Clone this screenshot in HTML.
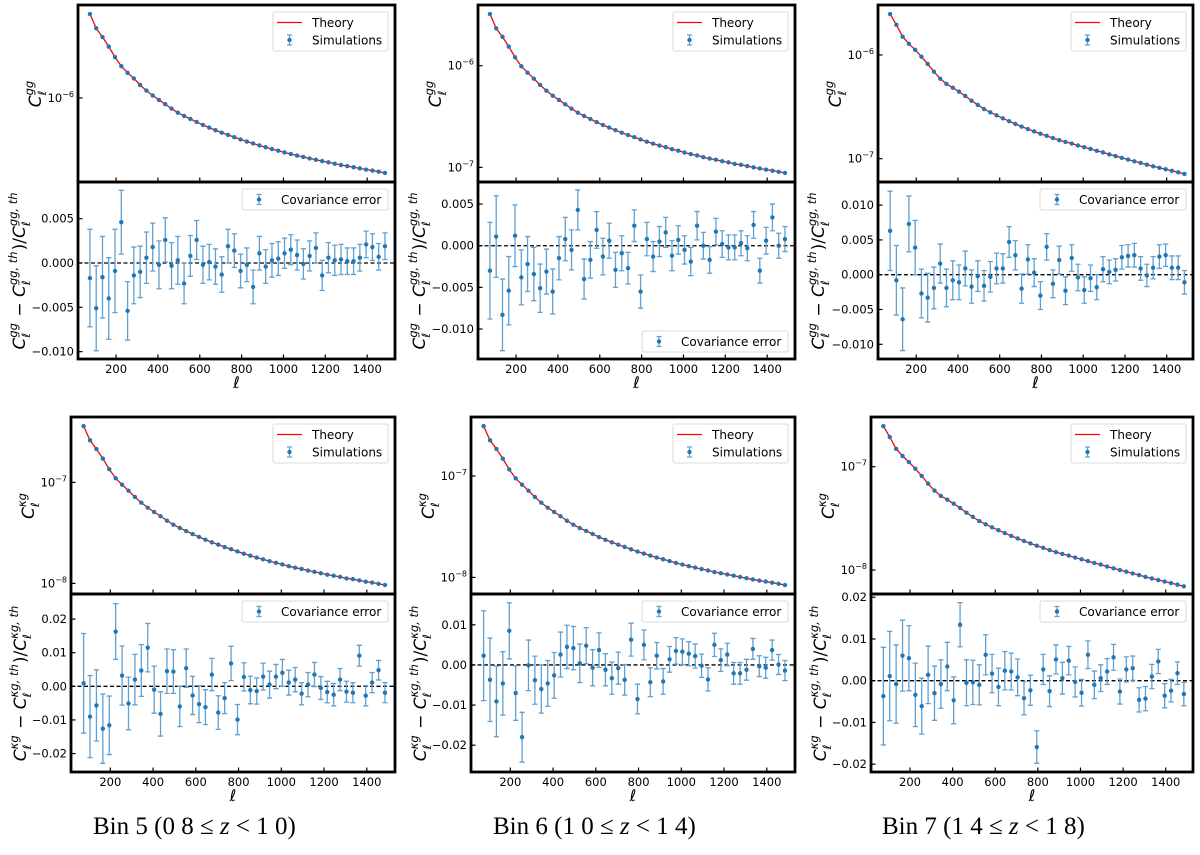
<!DOCTYPE html>
<html><head><meta charset="utf-8">
<style>
html,body{margin:0;padding:0;background:#fff;}
svg{display:block;}
text{font-family:"DejaVu Sans","Liberation Sans",sans-serif;}
.cap{font-family:"Liberation Serif",serif;font-size:25px;}
</style></head>
<body>
<svg id="fig" width="1200" height="855" viewBox="0 0 1200 855"></svg>
<script>
// ---------- data ----------
const ells = [75,105,135,165,195,225,255,285,315,345,375,405,435,465,495,525,555,585,615,645,675,705,735,765,795,825,855,885,915,945,975,1005,1035,1065,1095,1125,1155,1185,1215,1245,1275,1305,1335,1365,1395,1425,1455,1485];

const gg5Cl = [3.63,2.92,2.55,2.20,1.87,1.63,1.47,1.35,1.22,1.12,1.04,0.970,0.908,0.849,0.798,0.759,0.724,0.692,0.661,0.634,0.609,0.587,0.567,0.547,0.529,0.512,0.497,0.482,0.469,0.456,0.445,0.433,0.423,0.413,0.404,0.395,0.387,0.379,0.372,0.364,0.357,0.351,0.345,0.339,0.333,0.328,0.322,0.316];
const gg6Cl = [3.22,2.33,1.92,1.54,1.21,0.987,0.853,0.745,0.646,0.568,0.507,0.460,0.417,0.378,0.345,0.320,0.299,0.279,0.261,0.246,0.232,0.219,0.208,0.198,0.188,0.179,0.171,0.164,0.158,0.151,0.146,0.140,0.135,0.131,0.126,0.122,0.119,0.115,0.112,0.108,0.106,0.103,0.100,0.0975,0.0951,0.0928,0.0905,0.0881];
const gg7Cl = [2.48,1.95,1.50,1.28,1.12,0.963,0.819,0.690,0.591,0.525,0.484,0.443,0.403,0.362,0.330,0.301,0.280,0.262,0.245,0.230,0.216,0.204,0.193,0.183,0.174,0.166,0.158,0.151,0.145,0.140,0.134,0.129,0.124,0.119,0.115,0.110,0.106,0.102,0.098,0.0944,0.0910,0.0875,0.0845,0.0817,0.0791,0.0764,0.0739,0.0712];
const kg5Cl = [3.61,2.61,2.14,1.72,1.35,1.10,0.949,0.828,0.717,0.630,0.562,0.509,0.462,0.418,0.381,0.354,0.330,0.308,0.288,0.271,0.255,0.242,0.229,0.218,0.207,0.197,0.188,0.180,0.173,0.166,0.160,0.154,0.148,0.143,0.139,0.134,0.130,0.126,0.122,0.119,0.116,0.112,0.110,0.107,0.104,0.102,0.0991,0.0964];
const kg6Cl = [3.11,2.25,1.85,1.48,1.16,0.949,0.821,0.717,0.621,0.546,0.487,0.442,0.401,0.362,0.331,0.307,0.287,0.268,0.250,0.235,0.222,0.210,0.200,0.189,0.180,0.172,0.164,0.157,0.151,0.145,0.139,0.134,0.129,0.125,0.121,0.117,0.113,0.110,0.107,0.104,0.101,0.0982,0.0955,0.0931,0.0909,0.0887,0.0865,0.0841];
const kg7Cl = [2.47,1.94,1.49,1.27,1.11,0.957,0.814,0.686,0.587,0.521,0.480,0.439,0.399,0.359,0.327,0.298,0.277,0.259,0.243,0.228,0.214,0.202,0.191,0.181,0.172,0.164,0.156,0.149,0.143,0.138,0.132,0.127,0.122,0.117,0.113,0.108,0.104,0.100,0.0963,0.0927,0.0893,0.0858,0.0828,0.0800,0.0774,0.0747,0.0722,0.0695];

const gg5Res = [-0.0017,-0.0051,-0.0016,-0.0040,-0.0009,0.0046,-0.0054,-0.0014,-0.0010,0.0006,0.0018,-0.0002,0.0026,-0.0003,0.0003,-0.0023,0.0008,0.0026,-0.0002,0.0001,-0.0004,-0.0013,0.0019,0.0014,-0.0009,-0.0002,-0.0027,0.0011,-0.0004,0.0003,0.0005,0.0011,0.0015,0.0009,-0.0001,0.0008,0.0017,-0.0014,0.0006,0.0003,0.0004,0.0002,0.0002,0.0006,0.0021,0.0018,0.0007,0.0019];
const gg5Err = [0.0055,0.0048,0.0046,0.0046,0.0047,0.0036,0.0033,0.0032,0.0029,0.0029,0.0027,0.0027,0.0025,0.0026,0.0027,0.0023,0.0023,0.0022,0.0021,0.0020,0.0020,0.0020,0.0019,0.0019,0.0019,0.0019,0.0019,0.0019,0.0019,0.0019,0.0019,0.0017,0.0017,0.0017,0.0017,0.0017,0.0017,0.0017,0.0017,0.0017,0.0017,0.0015,0.0015,0.0015,0.0015,0.0015,0.0015,0.0015];
const gg6Res = [-0.0030,0.0011,-0.0083,-0.0054,0.0012,-0.0038,-0.0022,-0.0034,-0.0051,-0.0031,-0.0055,-0.0015,0.0008,-0.0005,0.0043,-0.0040,-0.0017,0.0019,-0.0013,0.0006,-0.0029,-0.0009,-0.0027,0.0024,-0.0055,0.0008,-0.0013,0.0005,0.0016,-0.0012,0.0007,-0.0005,-0.0019,0.0024,0.0000,-0.0017,0.0017,0.0002,-0.0002,-0.0002,0.0003,-0.0003,0.0025,-0.0030,0.0006,0.0034,0.0000,0.0008];
const gg6Err = [0.0058,0.0049,0.0043,0.0041,0.0037,0.0033,0.0033,0.0032,0.0029,0.0027,0.0027,0.0026,0.0026,0.0024,0.0024,0.0024,0.0022,0.0022,0.0022,0.0021,0.0021,0.0021,0.0019,0.0019,0.0020,0.0020,0.0018,0.0018,0.0018,0.0018,0.0017,0.0017,0.0017,0.0017,0.0016,0.0016,0.0016,0.0016,0.0015,0.0015,0.0015,0.0015,0.0016,0.0015,0.0016,0.0016,0.0015,0.0015];
const gg7Res = [0.0063,-0.0008,-0.0064,0.0073,0.0039,-0.0027,-0.0033,-0.0019,0.0016,-0.0019,-0.0008,-0.0011,0.0009,-0.0017,-0.0002,-0.0016,-0.0003,0.0009,0.0009,0.0047,0.0028,-0.0020,0.0022,0.0003,-0.0030,0.0040,-0.0013,0.0021,-0.0023,0.0024,-0.0004,-0.0022,-0.0005,-0.0018,0.0008,0.0004,0.0007,0.0025,0.0027,0.0028,0.0009,-0.0001,0.0010,0.0026,0.0028,0.0010,0.0010,-0.0011];
const gg7Err = [0.0057,0.0050,0.0045,0.0040,0.0039,0.0035,0.0035,0.0030,0.0028,0.0027,0.0028,0.0025,0.0025,0.0024,0.0022,0.0022,0.0022,0.0022,0.0021,0.0022,0.0021,0.0021,0.0021,0.0020,0.0020,0.0019,0.0020,0.0020,0.0020,0.0019,0.0019,0.0019,0.0019,0.0018,0.0018,0.0017,0.0016,0.0017,0.0016,0.0017,0.0017,0.0016,0.0016,0.0017,0.0016,0.0017,0.0017,0.0017];
const kg5Res = [0.0009,-0.0090,-0.0057,-0.0126,-0.0116,0.0163,0.0032,-0.0051,0.0020,0.0047,0.0115,-0.0010,-0.0082,0.0045,0.0044,-0.0060,0.0054,-0.0027,-0.0053,-0.0062,0.0035,-0.0078,-0.0035,0.0068,-0.0099,0.0028,-0.0011,-0.0014,0.0029,0.0005,0.0029,0.0040,0.0011,0.0020,-0.0022,0.0005,0.0035,-0.0005,-0.0017,-0.0025,0.0020,-0.0016,-0.0019,0.0091,-0.0028,0.0011,0.0048,-0.0019];
const kg5Err = [0.0148,0.0122,0.0106,0.0103,0.0087,0.0083,0.0088,0.0078,0.0075,0.0077,0.0072,0.0070,0.0066,0.0066,0.0065,0.0060,0.0057,0.0057,0.0055,0.0052,0.0048,0.0050,0.0046,0.0051,0.0045,0.0042,0.0041,0.0039,0.0040,0.0040,0.0036,0.0040,0.0037,0.0036,0.0033,0.0036,0.0036,0.0034,0.0032,0.0033,0.0033,0.0031,0.0030,0.0031,0.0030,0.0030,0.0029,0.0030];
const kg6Res = [0.0023,-0.0037,-0.0091,-0.0046,0.0085,-0.0070,-0.0180,-0.0001,-0.0038,-0.0060,-0.0046,-0.0026,0.0026,0.0045,0.0042,0.0004,0.0048,-0.0007,0.0037,-0.0012,-0.0033,-0.0008,-0.0037,0.0063,-0.0085,0.0050,-0.0043,0.0023,-0.0041,0.0014,0.0035,0.0033,0.0028,0.0022,-0.0002,-0.0036,0.0050,0.0012,0.0026,-0.0021,-0.0021,-0.0012,0.0040,-0.0003,-0.0007,0.0037,0.0001,-0.0014];
const kg6Err = [0.0112,0.0104,0.0088,0.0079,0.0070,0.0068,0.0062,0.0063,0.0060,0.0060,0.0057,0.0057,0.0056,0.0054,0.0054,0.0048,0.0045,0.0045,0.0043,0.0040,0.0040,0.0040,0.0038,0.0041,0.0037,0.0037,0.0036,0.0033,0.0032,0.0032,0.0033,0.0032,0.0030,0.0030,0.0029,0.0029,0.0029,0.0028,0.0028,0.0027,0.0027,0.0026,0.0026,0.0026,0.0026,0.0025,0.0025,0.0025];
const kg7Res = [-0.0037,0.0011,-0.0008,0.0060,0.0054,-0.0034,-0.0061,0.0014,-0.0030,-0.0008,0.0034,-0.0047,0.0134,-0.0005,-0.0004,-0.0010,0.0062,0.0017,-0.0015,0.0024,0.0022,0.0008,-0.0042,-0.0023,-0.0159,0.0027,-0.0025,0.0051,0.0006,0.0048,-0.0003,-0.0029,0.0062,-0.0010,0.0006,0.0022,0.0056,-0.0026,0.0027,0.0030,-0.0046,-0.0043,0.0010,0.0046,-0.0036,-0.0024,0.0018,-0.0032];
const kg7Err = [0.0117,0.0107,0.0094,0.0085,0.0078,0.0076,0.0067,0.0069,0.0065,0.0058,0.0058,0.0056,0.0053,0.0055,0.0053,0.0048,0.0048,0.0046,0.0045,0.0046,0.0044,0.0044,0.0040,0.0036,0.0039,0.0036,0.0037,0.0035,0.0038,0.0034,0.0036,0.0032,0.0033,0.0033,0.0032,0.0031,0.0031,0.0030,0.0030,0.0029,0.0029,0.0029,0.0029,0.0029,0.0029,0.0027,0.0027,0.0028];

const xTicks = [200,400,600,800,1000,1200,1400];
const ggLogTicks5 = [-6];
const ggLogTicks = [-6,-7];
const kgLogTicks = [-7,-8];
const ggResTicks = [-0.010,-0.005,0,0.005];
const ggResTicks7 = [-0.010,-0.005,0,0.005,0.010];
const kgResTicks = [-0.02,-0.01,0,0.01,0.02];
const kgResTicks6 = [-0.02,-0.01,0,0.01];
const captions = ["Bin 5 (0 8 \u2264 z < 1 0)","Bin 6 (1 0 \u2264 z < 1 4)","Bin 7 (1 4 \u2264 z < 1 8)"];

const panels = [
 {id:'gg-bin5',kind:'gg',L:78,R:395,T:5,M:182,B:359,xlim:[18,1533],cl:gg5Cl,unit:1e-6,logLim:[2.75e-7,4.17e-6],logT:ggLogTicks5,res:gg5Res,err:gg5Err,resLim:[-0.01083,0.00914],resT:ggResTicks,dec:3,legLow:false,lab1:35,lab2:19},
 {id:'gg-bin6',kind:'gg',L:478,R:795,T:5,M:182,B:359,xlim:[18,1533],cl:gg6Cl,unit:1e-6,logLim:[7.18e-8,3.95e-6],logT:ggLogTicks,res:gg6Res,err:gg6Err,resLim:[-0.0136,0.00765],resT:ggResTicks,dec:3,legLow:true,lab1:435,lab2:419},
 {id:'gg-bin7',kind:'gg',L:878,R:1193,T:5,M:182,B:359,xlim:[17,1526],cl:gg7Cl,unit:1e-6,logLim:[5.96e-8,3.03e-6],logT:ggLogTicks,res:gg7Res,err:gg7Err,resLim:[-0.01211,0.01332],resT:ggResTicks7,dec:3,legLow:false,lab1:835,lab2:818},
 {id:'kg-bin5',kind:'kg',L:71,R:395,T:417,M:594,B:772,xlim:[16,1532],cl:kg5Cl,unit:1e-7,logLim:[7.85e-9,4.44e-7],logT:kgLogTicks,res:kg5Res,err:kg5Err,resLim:[-0.02549,0.02746],resT:kgResTicks,dec:2,legLow:false,lab1:28,lab2:20},
 {id:'kg-bin6',kind:'kg',L:471,R:795,T:417,M:594,B:772,xlim:[16,1532],cl:kg6Cl,unit:1e-7,logLim:[6.86e-9,3.82e-7],logT:kgLogTicks,res:kg6Res,err:kg6Err,resLim:[-0.02668,0.01768],resT:kgResTicks6,dec:2,legLow:false,lab1:428,lab2:420},
 {id:'kg-bin7',kind:'kg',L:871,R:1193,T:417,M:594,B:772,xlim:[17,1528],cl:kg7Cl,unit:1e-7,logLim:[5.86e-9,3.03e-7],logT:kgLogTicks,res:kg7Res,err:kg7Err,resLim:[-0.02188,0.02077],resT:kgResTicks,dec:2,legLow:false,lab1:828,lab2:820}
];

const NS='http://www.w3.org/2000/svg';
const svg=document.getElementById('fig');
function mk(tag,attrs,parent){const e=document.createElementNS(NS,tag);for(const k in attrs)e.setAttribute(k,attrs[k]);parent.appendChild(e);return e;}
const BLUE='#1f77b4', LBLUE='#62a0d0';

function fmt(v,d){ if(Math.abs(v)<1e-12) v=0; let s=Math.abs(v).toFixed(d); return (v<0?'\u2212':'')+s; }

function ylabel(parent,cx,cy,isRes,kind){
  const outer=mk('g',{transform:`translate(${cx},${cy}) rotate(-90)`},parent);
  const g=mk('g',{},outer);
  let x=0;
  function piece(txt,size,italic,y){
    const t=mk('text',{x:x,y:y,'font-size':size,'font-style':italic?'italic':'normal'},g);
    t.textContent=txt;
    return t.getComputedTextLength();
  }
  const gs=kind==='gg'?'gg':'\u03bag';
  function term(sp){
    x+=piece('C',17,true,6);
    const ws=piece(sp,11.5,true,-2);
    const wl=piece('\u2113',11.5,true,11);
    x+=Math.max(ws,wl)+1;
  }
  term(gs);
  if(isRes){
    x+=piece('\u00a0\u2212\u00a0',17,false,6);
    term(gs+',\u00a0th');
    x+=piece(')/',17,false,6);
    term(gs+',\u00a0th');
  }
  g.setAttribute('transform',`translate(${-x/2},0)`);
  return outer;
}

function legendBox(parent,x1,y1,x2,y2){
  return mk('rect',{x:x1,y:y1,width:x2-x1,height:y2-y1,rx:2,fill:'#fff','fill-opacity':0.85,stroke:'#d0d0d0','stroke-width':0.8},parent);
}

panels.forEach((p,pi)=>{
  const g=mk('g',{},svg);
  
  
  const W=p.R-p.L;
  const xs=l=>p.L+(l-p.xlim[0])/(p.xlim[1]-p.xlim[0])*W;
  const lyLo=Math.log10(p.logLim[0]), lyHi=Math.log10(p.logLim[1]);
  const ys1=v=>p.M-(Math.log10(v)-lyLo)/(lyHi-lyLo)*(p.M-p.T);
  const ys2=v=>p.B-(v-p.resLim[0])/(p.resLim[1]-p.resLim[0])*(p.B-p.M);

  const cid='clip'+pi;
  const defs=mk('defs',{},g);
  const cp1=mk('clipPath',{id:cid+'a'},defs); mk('rect',{x:p.L,y:p.T,width:W,height:p.M-p.T},cp1);
  const cp2=mk('clipPath',{id:cid+'b'},defs); mk('rect',{x:p.L,y:p.M,width:W,height:p.B-p.M},cp2);

  const top=mk('g',{'clip-path':`url(#${cid}a)`},g);
  
  
  let d='';
  ells.forEach((l,i)=>{d+=(i?'L':'M')+xs(l).toFixed(2)+','+ys1(p.cl[i]*p.unit).toFixed(2);});
  const th=mk('path',{d:d,fill:'none',stroke:'#ff0000','stroke-width':1.3},top);
  
  
  ells.forEach((l,i)=>{
    const cx=xs(l), cy=ys1(p.cl[i]*p.unit);
    mk('line',{x1:cx,x2:cx,y1:cy-1.6,y2:cy+1.6,stroke:LBLUE,'stroke-width':1.2},top);
    const c=mk('circle',{cx:cx,cy:cy,r:2.2,fill:BLUE},top);
    
    
  });

  const bot=mk('g',{'clip-path':`url(#${cid}b)`},g);
  
  
  const zl=mk('line',{x1:p.L,x2:p.R,y1:ys2(0),y2:ys2(0),stroke:'#000','stroke-width':1.3,'stroke-dasharray':'4,2.5'},bot);
  
  
  ells.forEach((l,i)=>{
    const cx=xs(l), cy=ys2(p.res[i]), y1=ys2(p.res[i]+p.err[i]), y2=ys2(p.res[i]-p.err[i]);
    const eb=mk('path',{d:`M${cx},${y1}L${cx},${y2}M${cx-2.6},${y1}L${cx+2.6},${y1}M${cx-2.6},${y2}L${cx+2.6},${y2}`,stroke:LBLUE,'stroke-width':1.3,fill:'none'},bot);
    
    
    const c=mk('circle',{cx:cx,cy:cy,r:2.2,fill:BLUE},bot);
    
    
  });

  const tk=mk('g',{stroke:'#000','stroke-width':1.2},g);
  
  
  xTicks.forEach(v=>{
    const x=xs(v);
    mk('line',{x1:x,x2:x,y1:p.M,y2:p.M-4.5},tk);
    mk('line',{x1:x,x2:x,y1:p.B,y2:p.B-4.5},tk);
    const t=mk('text',{x:x,y:p.B+14,'text-anchor':'middle','font-size':11.5,fill:'#000',stroke:'none'},g);
    
    
    t.textContent=v;
  });
  p.logT.forEach(e=>{
    const y=ys1(Math.pow(10,e));
    mk('line',{x1:p.L,x2:p.L+4.5,y1:y,y2:y},tk);
    const t=mk('text',{x:p.L-4,y:y+4,'text-anchor':'end','font-size':11.5,fill:'#000'},g);
    
    
    const a=mk('tspan',{},t); a.textContent='10';
    const b=mk('tspan',{'font-size':8,dy:-5},t); b.textContent='\u2212'+(-e);
  });
  p.resT.forEach(v=>{
    const y=ys2(v);
    mk('line',{x1:p.L,x2:p.L+4.5,y1:y,y2:y},tk);
    const t=mk('text',{x:p.L-4,y:y+4,'text-anchor':'end','font-size':11.5,fill:'#000'},g);
    
    
    t.textContent=fmt(v,p.dec);
  });

  const f1=mk('rect',{x:p.L,y:p.T,width:W,height:p.M-p.T,fill:'none',stroke:'#000','stroke-width':2.8},g);
  
  
  const f2=mk('rect',{x:p.L,y:p.M,width:W,height:p.B-p.M,fill:'none',stroke:'#000','stroke-width':2.8},g);
  
  

  const yl1=ylabel(g,p.lab1,(p.T+p.M)/2,false,p.kind);
  
  
  const yl2=ylabel(g,p.lab2,(p.M+p.B)/2,true,p.kind);
  
  
  const xl=mk('text',{x:(p.L+p.R)/2,y:p.B+29,'text-anchor':'middle','font-size':16,'font-style':'italic'},g);
  
  
  xl.textContent='\u2113';

  const lg=mk('g',{},g);
  
  
  legendBox(lg,p.R-122,p.T+7,p.R-7,p.T+46);
  const e1=mk('g',{},lg);
  
  
  mk('line',{x1:p.R-118,x2:p.R-93,y1:p.T+17.5,y2:p.T+17.5,stroke:'#ff0000','stroke-width':1.3},e1);
  const lt1=mk('text',{x:p.R-83,y:p.T+22,'font-size':12},e1); lt1.textContent='Theory';
  const e2=mk('g',{},lg);
  
  
  const mx=p.R-105.5, my=p.T+35;
  mk('path',{d:`M${mx},${my-5}L${mx},${my+5}M${mx-2.5},${my-5}L${mx+2.5},${my-5}M${mx-2.5},${my+5}L${mx+2.5},${my+5}`,stroke:LBLUE,'stroke-width':1.2,fill:'none'},e2);
  mk('circle',{cx:mx,cy:my,r:2.2,fill:BLUE},e2);
  const lt2=mk('text',{x:p.R-83,y:p.T+39.5,'font-size':12},e2); lt2.textContent='Simulations';

  const rg=mk('g',{},g);
  
  
  const ly1=p.legLow? p.B-28 : p.M+7;
  legendBox(rg,p.R-153,ly1,p.R-7,ly1+21);
  const rx=p.R-136, ry=ly1+10.5;
  mk('path',{d:`M${rx},${ry-5}L${rx},${ry+5}M${rx-2.5},${ry-5}L${rx+2.5},${ry-5}M${rx-2.5},${ry+5}L${rx+2.5},${ry+5}`,stroke:LBLUE,'stroke-width':1.2,fill:'none'},rg);
  mk('circle',{cx:rx,cy:ry,r:2.2,fill:BLUE},rg);
  const rt=mk('text',{x:p.R-114,y:ry+4.5,'font-size':12},rg); rt.textContent='Covariance error';
});

const capX=[93,493,882];
captions.forEach((c,i)=>{
  const t=mk('text',{x:capX[i],y:834,class:'cap'},svg);
  
  
  const parts=c.split('z');
  const a=mk('tspan',{},t); a.textContent=parts[0];
  const z=mk('tspan',{'font-style':'italic'},t); z.textContent='z';
  const b=mk('tspan',{},t); b.textContent=parts[1];
});
</script>
</body></html>
